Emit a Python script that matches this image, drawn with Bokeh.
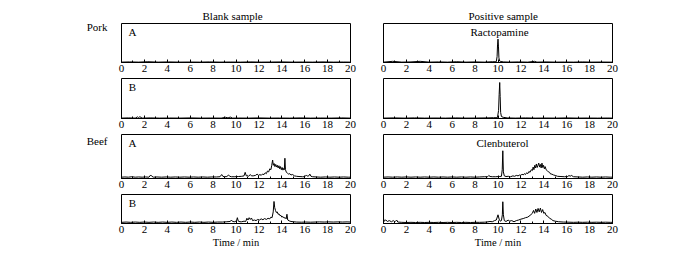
from bokeh.plotting import figure
from bokeh.layouts import column, row
from bokeh.models import Range1d, SingleIntervalTicker, FixedTicker, Label
from bokeh.embed import file_html
from bokeh.resources import INLINE

FONT = "Liberation Serif"

# x-axis ticks (min)
tick_interval = 2
x_min, x_max = 0, 20

column_titles = ["Blank sample", "Positive sample"]
row_groups = ["Pork", "Beef"]
panel_letters = ["A", "B", "A", "B"]
analytes = ["Ractopamine", "", "Clenbuterol", ""]
x_title = "Time / min"

# ---- chromatogram traces: (time [min], relative intensity) ----
pork_a_blank = [(0.0, 0.01), (0.7, 0.015), (1.5, 0.01), (2.3, 0.02), (3.2, 0.01), (4.1, 0.015),
                (5.0, 0.01), (5.9, 0.012), (6.8, 0.01), (7.7, 0.015), (8.6, 0.01), (9.5, 0.012),
                (10.4, 0.01), (11.3, 0.015), (12.2, 0.01), (13.1, 0.012), (14.0, 0.015), (14.9, 0.01),
                (15.8, 0.012), (16.7, 0.01), (17.6, 0.015), (18.5, 0.01), (19.4, 0.012), (20.0, 0.01)]

pork_b_blank = [(0.0, 0.01), (0.6, 0.015), (1.2, 0.01), (1.4, 0.04), (1.5, 0.02), (1.6, 0.045),
                (1.8, 0.01), (2.5, 0.015), (3.3, 0.01), (4.2, 0.012), (5.1, 0.01), (6.0, 0.015),
                (6.9, 0.01), (7.8, 0.012), (8.7, 0.01), (9.1, 0.03), (9.3, 0.015), (9.5, 0.035),
                (9.7, 0.01), (10.2, 0.012), (11.1, 0.01), (12.0, 0.015), (12.9, 0.01), (13.8, 0.012),
                (14.7, 0.01), (15.6, 0.015), (16.5, 0.01), (17.4, 0.012), (18.3, 0.01), (19.2, 0.015),
                (20.0, 0.01)]

pork_a_positive = [(0.0, 0.01), (0.8, 0.03), (1.6, 0.01), (2.4, 0.015), (3.2, 0.03), (4.0, 0.01),
                   (4.8, 0.015), (5.6, 0.01), (6.4, 0.02), (7.2, 0.01), (8.0, 0.015), (8.8, 0.01),
                   (9.5, 0.02), (9.85, 0.02), (9.92, 0.15), (9.96, 0.45), (10.0, 0.6), (10.04, 0.42),
                   (10.08, 0.12), (10.14, 0.04), (10.25, 0.025), (10.5, 0.015), (11.0, 0.01),
                   (11.8, 0.015), (12.6, 0.01), (13.2, 0.03), (13.4, 0.01), (14.2, 0.015), (15.0, 0.01),
                   (15.8, 0.012), (16.6, 0.01), (17.4, 0.015), (18.2, 0.01), (19.0, 0.012),
                   (19.8, 0.01), (20.0, 0.01)]

pork_b_positive = [(0.0, 0.01), (0.9, 0.015), (1.8, 0.01), (2.7, 0.015), (3.6, 0.01), (4.5, 0.012),
                   (5.4, 0.01), (6.3, 0.015), (7.2, 0.01), (8.1, 0.012), (9.0, 0.015), (9.6, 0.02),
                   (9.95, 0.02), (10.05, 0.2), (10.1, 0.6), (10.15, 0.9), (10.19, 0.55), (10.23, 0.15),
                   (10.3, 0.05), (10.45, 0.03), (10.8, 0.015), (11.5, 0.01), (12.4, 0.015), (13.3, 0.01),
                   (14.2, 0.012), (15.1, 0.01), (16.0, 0.015), (16.9, 0.01), (17.8, 0.012), (18.7, 0.01),
                   (19.6, 0.012), (20.0, 0.01)]

beef_a_blank = [(0.0, 0.03), (0.3, 0.035), (0.6, 0.03), (0.9, 0.04), (1.2, 0.03), (1.5, 0.035),
                (1.8, 0.03), (2.1, 0.035), (2.4, 0.03), (2.55, 0.08), (2.65, 0.05), (2.8, 0.03),
                (3.1, 0.035), (3.5, 0.03), (3.9, 0.035), (4.3, 0.03), (4.7, 0.035), (5.1, 0.03),
                (5.5, 0.035), (5.9, 0.03), (6.3, 0.035), (6.7, 0.03), (7.1, 0.035), (7.5, 0.03),
                (7.9, 0.035), (8.3, 0.035), (8.6, 0.04), (8.75, 0.09), (8.85, 0.05), (9.0, 0.04),
                (9.2, 0.045), (9.35, 0.08), (9.45, 0.05), (9.6, 0.04), (9.9, 0.04), (10.2, 0.045),
                (10.5, 0.05), (10.7, 0.06), (10.8, 0.14), (10.9, 0.06), (11.0, 0.07), (11.1, 0.05),
                (11.25, 0.09), (11.35, 0.06), (11.5, 0.06), (11.7, 0.07), (11.85, 0.1), (11.95, 0.07),
                (12.1, 0.09), (12.2, 0.07), (12.3, 0.1), (12.45, 0.09), (12.55, 0.13), (12.65, 0.11),
                (12.75, 0.17), (12.85, 0.15), (12.95, 0.22), (13.05, 0.2), (13.12, 0.3), (13.2, 0.42),
                (13.26, 0.3), (13.33, 0.34), (13.4, 0.27), (13.47, 0.32), (13.54, 0.26), (13.61, 0.3),
                (13.68, 0.24), (13.75, 0.29), (13.82, 0.22), (13.89, 0.27), (13.96, 0.2), (14.03, 0.25),
                (14.1, 0.19), (14.17, 0.23), (14.22, 0.2), (14.27, 0.46), (14.32, 0.2), (14.4, 0.14),
                (14.5, 0.12), (14.6, 0.1), (14.7, 0.11), (14.8, 0.08), (14.95, 0.09), (15.1, 0.06),
                (15.3, 0.05), (15.5, 0.045), (15.8, 0.04), (16.0, 0.04), (16.15, 0.08), (16.25, 0.05),
                (16.35, 0.06), (16.45, 0.1), (16.55, 0.05), (16.7, 0.04), (17.0, 0.035), (17.4, 0.03),
                (17.8, 0.035), (18.2, 0.03), (18.6, 0.035), (19.0, 0.03), (19.4, 0.035), (19.8, 0.03),
                (20.0, 0.03)]

beef_a_positive = [(0.0, 0.03), (0.4, 0.035), (0.8, 0.03), (1.2, 0.035), (1.6, 0.03), (2.0, 0.035),
                   (2.4, 0.03), (2.8, 0.035), (3.2, 0.03), (3.6, 0.035), (4.0, 0.03), (4.4, 0.035),
                   (4.8, 0.03), (5.2, 0.035), (5.6, 0.03), (6.0, 0.035), (6.4, 0.03), (6.8, 0.035),
                   (7.2, 0.03), (7.6, 0.035), (8.0, 0.03), (8.4, 0.035), (8.8, 0.04), (9.1, 0.04),
                   (9.2, 0.07), (9.3, 0.045), (9.5, 0.04), (9.8, 0.04), (10.1, 0.045), (10.3, 0.05),
                   (10.37, 0.2), (10.42, 0.63), (10.47, 0.15), (10.55, 0.06), (10.7, 0.045), (10.9, 0.05),
                   (11.1, 0.04), (11.3, 0.06), (11.45, 0.05), (11.6, 0.07), (11.75, 0.06), (11.9, 0.08),
                   (12.0, 0.07), (12.1, 0.1), (12.2, 0.08), (12.3, 0.11), (12.4, 0.09), (12.5, 0.13),
                   (12.6, 0.11), (12.7, 0.16), (12.8, 0.14), (12.9, 0.2), (13.0, 0.18), (13.07, 0.26),
                   (13.14, 0.2), (13.21, 0.3), (13.28, 0.24), (13.35, 0.33), (13.42, 0.25), (13.49, 0.3),
                   (13.56, 0.35), (13.63, 0.26), (13.7, 0.32), (13.77, 0.24), (13.84, 0.35), (13.91, 0.25),
                   (13.98, 0.3), (14.05, 0.22), (14.12, 0.27), (14.2, 0.2), (14.3, 0.18), (14.4, 0.15),
                   (14.5, 0.14), (14.6, 0.1), (14.7, 0.1), (14.85, 0.08), (15.0, 0.07), (15.2, 0.05),
                   (15.5, 0.045), (15.8, 0.04), (16.1, 0.045), (16.2, 0.07), (16.3, 0.05), (16.4, 0.07),
                   (16.6, 0.04), (17.0, 0.035), (17.4, 0.03), (17.8, 0.035), (18.2, 0.03), (18.6, 0.035),
                   (19.0, 0.03), (19.4, 0.035), (19.8, 0.03), (20.0, 0.03)]

beef_b_blank = [(0.0, 0.04), (0.4, 0.05), (0.8, 0.04), (1.2, 0.05), (1.6, 0.04), (2.0, 0.05),
                (2.4, 0.04), (2.8, 0.05), (3.2, 0.04), (3.6, 0.05), (4.0, 0.04), (4.4, 0.05),
                (4.8, 0.04), (5.2, 0.05), (5.6, 0.04), (6.0, 0.05), (6.4, 0.04), (6.8, 0.05),
                (7.2, 0.04), (7.6, 0.05), (8.0, 0.04), (8.4, 0.05), (8.8, 0.05), (9.2, 0.06),
                (9.5, 0.07), (9.6, 0.12), (9.7, 0.07), (9.9, 0.06), (10.05, 0.1), (10.12, 0.2),
                (10.2, 0.08), (10.35, 0.06), (10.5, 0.06), (10.7, 0.08), (10.85, 0.07), (10.95, 0.18),
                (11.05, 0.12), (11.15, 0.2), (11.25, 0.14), (11.35, 0.19), (11.45, 0.1), (11.6, 0.12),
                (11.75, 0.1), (11.9, 0.14), (12.05, 0.12), (12.2, 0.16), (12.35, 0.13), (12.5, 0.17),
                (12.65, 0.14), (12.8, 0.18), (12.95, 0.16), (13.05, 0.22), (13.15, 0.2), (13.25, 0.4),
                (13.32, 0.76), (13.38, 0.55), (13.45, 0.45), (13.52, 0.38), (13.6, 0.4), (13.68, 0.32),
                (13.76, 0.33), (13.84, 0.27), (13.92, 0.28), (14.0, 0.22), (14.1, 0.24), (14.2, 0.19),
                (14.3, 0.2), (14.38, 0.16), (14.45, 0.32), (14.52, 0.12), (14.65, 0.09), (14.8, 0.07),
                (15.0, 0.06), (15.3, 0.05), (15.7, 0.045), (16.1, 0.05), (16.5, 0.045), (16.9, 0.05),
                (17.3, 0.055), (17.7, 0.05), (18.1, 0.055), (18.5, 0.05), (18.9, 0.055), (19.3, 0.05),
                (19.7, 0.055), (20.0, 0.05)]

beef_b_positive = [(0.0, 0.18), (0.05, 0.08), (0.2, 0.12), (0.35, 0.07), (0.5, 0.1), (0.7, 0.06),
                   (0.85, 0.1), (1.0, 0.06), (1.15, 0.12), (1.25, 0.05), (1.6, 0.04), (2.0, 0.035),
                   (2.4, 0.04), (2.8, 0.035), (3.2, 0.04), (3.6, 0.035), (4.0, 0.04), (4.4, 0.035),
                   (4.8, 0.04), (5.2, 0.035), (5.6, 0.04), (6.0, 0.035), (6.4, 0.04), (6.8, 0.035),
                   (7.2, 0.04), (7.6, 0.035), (8.0, 0.04), (8.4, 0.04), (8.8, 0.045), (9.0, 0.05),
                   (9.3, 0.07), (9.5, 0.06), (9.7, 0.1), (9.85, 0.12), (10.0, 0.3), (10.1, 0.15),
                   (10.2, 0.08), (10.3, 0.1), (10.38, 0.3), (10.42, 0.75), (10.47, 0.3), (10.55, 0.1),
                   (10.7, 0.07), (10.9, 0.12), (11.0, 0.08), (11.2, 0.1), (11.4, 0.06), (11.6, 0.1),
                   (11.8, 0.12), (12.0, 0.15), (12.2, 0.17), (12.4, 0.2), (12.6, 0.22), (12.8, 0.28),
                   (13.0, 0.35), (13.1, 0.45), (13.2, 0.35), (13.3, 0.5), (13.4, 0.38), (13.5, 0.52),
                   (13.6, 0.4), (13.7, 0.53), (13.8, 0.38), (13.9, 0.48), (14.0, 0.35), (14.1, 0.38),
                   (14.2, 0.28), (14.35, 0.25), (14.5, 0.18), (14.65, 0.15), (14.8, 0.1), (15.0, 0.08),
                   (15.3, 0.06), (15.7, 0.05), (16.2, 0.045), (16.6, 0.04), (17.0, 0.045), (17.4, 0.04),
                   (17.8, 0.045), (18.2, 0.04), (18.6, 0.045), (19.0, 0.04), (19.4, 0.045), (19.8, 0.04),
                   (20.0, 0.04)]

traces = [[pork_a_blank, pork_a_positive],
          [pork_b_blank, pork_b_positive],
          [beef_a_blank, beef_a_positive],
          [beef_b_blank, beef_b_positive]]

# row group label positions (relative intensity height of the label on the left)
group_rows = {0: (row_groups[0], 0.9), 2: (row_groups[1], 0.85)}

# ---- layout (pixels) ----
FRAME_W = 229
frame_heights = [39, 40, 44, 29]
border_tops = [23, 0, 0, 0]
border_bottoms = [16, 16, 16, 31]
LEFT_B = [121, 23]
RIGHT_B = [10, 20]
title_offsets = [81, 85]


def style_axis(p, with_title):
    ax = p.xaxis[0]
    ax.ticker = SingleIntervalTicker(interval=tick_interval, num_minor_ticks=2)
    ax.major_tick_in = 3
    ax.major_tick_out = 0
    ax.minor_tick_in = 2
    ax.minor_tick_out = 0
    ax.axis_line_color = "black"
    ax.major_tick_line_color = "black"
    ax.minor_tick_line_color = "black"
    ax.major_label_text_font = FONT
    ax.major_label_text_font_size = "11px"
    ax.major_label_text_color = "black"
    ax.major_label_standoff = 2
    if with_title:
        ax.axis_label = x_title
        ax.axis_label_text_font = FONT
        ax.axis_label_text_font_style = "normal"
        ax.axis_label_text_font_size = "10.5px"
        ax.axis_label_text_color = "black"
        ax.axis_label_standoff = 1


def add_label(p, text, x, y, align="center", size="11px"):
    p.add_layout(Label(x=x, y=y, x_units="screen", y_units="screen", text=text,
                       text_font=FONT, text_font_size=size, text_color="black",
                       text_align=align, text_baseline="middle"))


rows = []
for r in range(4):
    figs = []
    for c in range(2):
        pts = traces[r][c]
        t = [a for a, b in pts]
        y = [b for a, b in pts]
        has_group = (c == 0 and r in group_rows)
        p = figure(frame_width=FRAME_W, frame_height=frame_heights[r],
                   min_border_left=LEFT_B[c], min_border_right=RIGHT_B[c],
                   min_border_top=border_tops[r], min_border_bottom=border_bottoms[r],
                   x_range=Range1d(x_min, x_max), y_range=Range1d(0, 1),
                   y_axis_location="left" if has_group else None,
                   output_backend="svg", toolbar_location=None)
        p.line(t, y, line_color="black", line_width=1)
        p.grid.visible = False
        p.outline_line_color = "black"
        p.outline_line_alpha = 1
        p.outline_line_width = 1
        p.background_fill_color = "white"
        p.border_fill_color = "white"
        style_axis(p, r == 3)
        fh = frame_heights[r]
        if r == 0:
            p.title.text = column_titles[c]
            p.title.align = "left"
            p.title.offset = title_offsets[c]
            p.title.text_font = FONT
            p.title.text_font_size = "11px"
            p.title.text_font_style = "normal"
            p.title.text_color = "black"
            p.title.standoff = 3
        if has_group:
            name, ypos = group_rows[r]
            yax = p.yaxis[0]
            yax.ticker = FixedTicker(ticks=[ypos], minor_ticks=[])
            yax.major_label_overrides = {ypos: name}
            yax.axis_line_color = None
            yax.major_tick_line_color = None
            yax.minor_tick_line_color = None
            yax.major_label_text_font = FONT
            yax.major_label_text_font_size = "11px"
            yax.major_label_text_color = "black"
            yax.major_label_standoff = 8
        if c == 0:
            add_label(p, panel_letters[r], 11, fh - 8)
        else:
            if analytes[r]:
                add_label(p, analytes[r], 116 if r == 0 else 119, fh - 8)
        figs.append(p)
    rows.append(row(*figs, spacing=0))

layout = column(*rows, spacing=0)

open("out.html", "w").write(file_html(layout, INLINE))
